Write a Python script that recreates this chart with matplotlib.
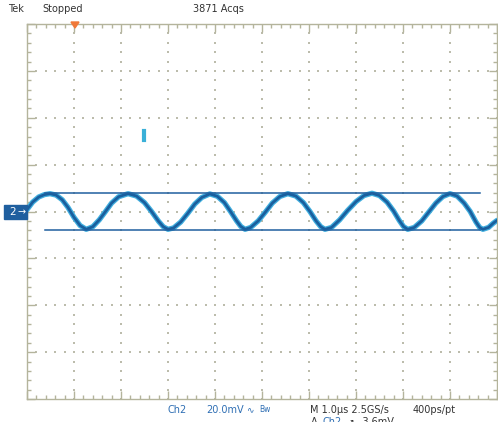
import matplotlib
matplotlib.use("Agg")
import matplotlib.pyplot as plt
import numpy as np
from matplotlib.patches import Rectangle, Polygon

# ---- data (time in us across the 10-division screen, voltage in mV) ----
t_us = [0.00, 0.12, 0.25, 0.37, 0.49, 0.62, 0.75, 0.87, 1.00, 1.13, 1.26, 1.40,
        1.54, 1.67, 1.80, 1.95, 2.15, 2.33, 2.50, 2.65, 2.80, 2.90, 3.00, 3.12,
        3.27, 3.42, 3.57, 3.72, 3.89, 4.05, 4.20, 4.33, 4.46, 4.55, 4.64, 4.76,
        4.92, 5.07, 5.22, 5.38, 5.55, 5.72, 5.88, 6.02, 6.15, 6.25, 6.34, 6.48,
        6.65, 6.82, 7.00, 7.17, 7.34, 7.50, 7.66, 7.80, 7.92, 8.01, 8.10, 8.24,
        8.40, 8.55, 8.70, 8.85, 9.00, 9.15, 9.30, 9.43, 9.55, 9.63, 9.70, 9.82,
        9.92, 10.00]
v_mV = [0.8, 4.0, 6.2, 7.2, 7.6, 7.0, 5.0, 1.8, -2.5, -6.0, -7.6, -6.5,
        -3.5, 0.0, 3.6, 6.3, 7.6, 6.6, 3.8, 0.0, -4.2, -6.5, -7.6, -7.0,
        -4.5, -0.8, 3.2, 6.0, 7.5, 6.5, 3.8, 0.0, -4.0, -6.4, -7.6, -6.8,
        -4.0, -0.3, 3.6, 6.4, 7.6, 6.6, 3.8, 0.0, -4.0, -6.5, -7.6, -6.8,
        -3.6, 0.4, 4.2, 6.8, 7.8, 6.8, 4.0, 0.2, -3.8, -6.4, -7.6, -6.8,
        -4.0, -0.2, 3.6, 6.4, 7.6, 6.6, 3.6, 0.0, -4.4, -6.8, -7.6, -6.8,
        -5.0, -3.8]

cursor_levels_mV = [7.7, -8.1]
cursor_span_us = [0.38, 9.64]
glitch_t_us = 2.49
glitch_v_mV = [30.6, 34.2]

header_texts = ["Tek", "Stopped", "3871 Acqs"]
footer_texts = ["Ch2", "20.0mV", "Bw", "M 1.0\u00b5s 2.5GS/s", "400ps/pt"]

W, H = 498, 422
fig = plt.figure(figsize=(W / 100, H / 100), dpi=100)
fig.patch.set_facecolor("white")

def fx(px):
    return px / W

def fy(py):
    return 1 - py / H

ax = fig.add_axes([fx(27), fy(399), 470 / W, 375 / H])
ax.set_xlim(0, 10)
ax.set_ylim(-80, 80)
ax.set_facecolor("white")

grid_col = "#b4b49c"
for s in ax.spines.values():
    s.set_color(grid_col)
    s.set_linewidth(1.0)

ax.set_xticks(np.arange(0, 11, 1))
ax.set_xticks(np.arange(0, 10.01, 0.2), minor=True)
ax.set_yticks(np.arange(-80, 81, 20))
ax.set_yticks(np.arange(-80, 80.1, 4), minor=True)
ax.tick_params(which="both", direction="in", top=True, right=True,
               labelbottom=False, labelleft=False, color=grid_col, width=1.0)
ax.tick_params(which="major", length=5.5)
ax.tick_params(which="minor", length=2.6)

# dotted graticule
xs_major = np.arange(1, 10, 1)
ys_major = np.arange(-60, 61, 20)
dots_x, dots_y = [], []
for xm in xs_major:
    for yy in np.arange(-80, 80.1, 4):
        dots_x.append(xm); dots_y.append(yy)
for ym in ys_major:
    for xx in np.arange(0, 10.01, 0.2):
        dots_x.append(xx); dots_y.append(ym)
ax.scatter(dots_x, dots_y, s=0.9, color="#bcbcac", marker="s", linewidths=0, zorder=1)

# waveform trace
ax.plot(t_us, v_mV, color="#40aede", lw=3.8, solid_capstyle="round", zorder=3)
ax.plot(t_us, v_mV, color="#1a5f9e", lw=2.0, solid_capstyle="round", zorder=4)

# cursor lines
for lvl in cursor_levels_mV:
    ax.plot(cursor_span_us, [lvl, lvl], color="#1f5f9f", lw=1.1, zorder=5)

# glitch mark
ax.plot([glitch_t_us, glitch_t_us], glitch_v_mV, color="#3ab0d8", lw=3, zorder=5)

# header
hc = "#333333"
fig.text(fx(8), fy(9), header_texts[0], fontsize=7, color=hc, va="center", ha="left")
fig.text(fx(42), fy(9), header_texts[1], fontsize=7, color=hc, va="center", ha="left")
fig.text(fx(193), fy(9), header_texts[2], fontsize=7, color=hc, va="center", ha="left")

# trigger marker
tri = Polygon([[fx(71), fy(22)], [fx(79), fy(22)], [fx(75), fy(28)]],
              closed=True, transform=fig.transFigure, color="#f07838", zorder=10)
fig.patches.append(tri)

# channel 2 marker
box = Rectangle((fx(4), fy(219)), fx(27) - fx(4), (219 - 205) / H,
                transform=fig.transFigure, color="#1f5f9f", zorder=10)
fig.patches.append(box)
fig.text(fx(9), fy(212), "2", fontsize=7.5, color="white", va="center", ha="left", zorder=11)
fig.text(fx(17), fy(212), "\u2192", fontsize=7, color="white", va="center", ha="left", zorder=11)

# footer
bc = "#2f6fb4"
fig.text(fx(167), fy(410), footer_texts[0], fontsize=7, color=bc, va="center", ha="left")
fig.text(fx(206), fy(410), footer_texts[1], fontsize=7, color=bc, va="center", ha="left")
fig.text(fx(246), fy(410), "\u223f", fontsize=6.5, color=bc, va="center", ha="left")
fig.text(fx(259), fy(409), footer_texts[2], fontsize=5.5, color=bc, va="center", ha="left")
fig.text(fx(310), fy(410), footer_texts[3], fontsize=7, color=hc, va="center", ha="left")
fig.text(fx(413), fy(410), footer_texts[4], fontsize=7, color=hc, va="center", ha="left")
# second line (partly below the screen edge in the reference)
fig.text(fx(311), fy(422), "A", fontsize=7, color=hc, va="center", ha="left")
fig.text(fx(322), fy(422), "Ch2", fontsize=7, color=bc, va="center", ha="left")
fig.text(fx(347), fy(422), "\u2197", fontsize=6.5, color=hc, va="center", ha="left")
fig.text(fx(360), fy(422), "-3.6mV", fontsize=7, color=hc, va="center", ha="left")

fig.savefig("out.png", dpi=100, facecolor="white")
